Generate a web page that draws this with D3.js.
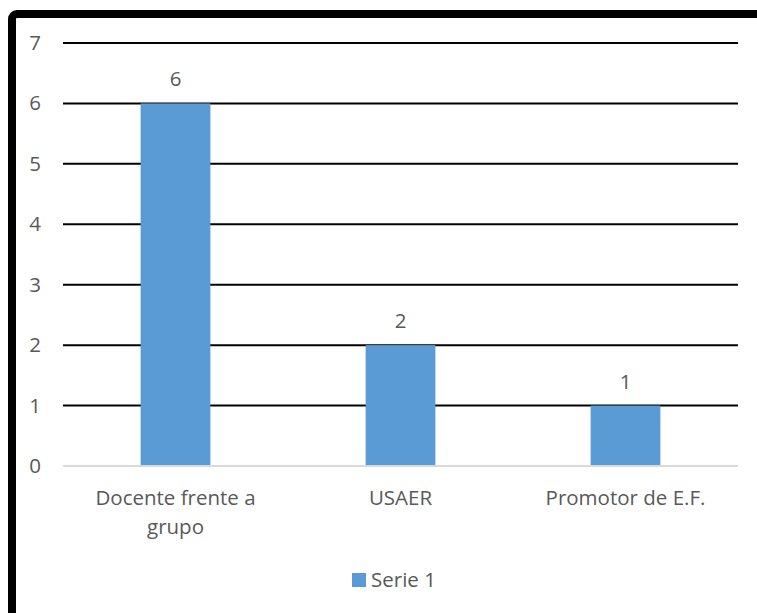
<!DOCTYPE html>
<html>
<head>
<meta charset="utf-8">
<script src="https://cdn.jsdelivr.net/npm/d3@7"></script>
<style>
  body { margin: 0; background: #fff; }
  text { font-family: "Open Sans", "Noto Sans", sans-serif; fill: #595959; }
</style>
</head>
<body>
<script>
const categories = ["Docente frente a grupo", "USAER", "Promotor de E.F."];
const labelLines = [["Docente frente a", "grupo"], ["USAER"], ["Promotor de E.F."]];
const serie1 = [6, 2, 1];
const yTicks = [0, 1, 2, 3, 4, 5, 6, 7];
const seriesName = "Serie 1";

const W = 757, H = 613;
const plot = { left: 63, right: 738, top: 43, bottom: 466 };
const fs = "20.5px";

const svg = d3.select("body").append("svg").attr("width", W).attr("height", H);

// outer frame (cut by the picture edge on right and bottom)
svg.append("rect")
  .attr("x", 12).attr("y", 14).attr("width", 800).attr("height", 700)
  .attr("rx", 5)
  .attr("fill", "none").attr("stroke", "#000").attr("stroke-width", 8);

const x = d3.scaleBand().domain(categories).range([plot.left, plot.right]).paddingInner(0.69).paddingOuter(0.345);
const y = d3.scaleLinear().domain([0, 7]).range([plot.bottom, plot.top]);

// gridlines
svg.append("g").selectAll("line").data(yTicks).enter().append("line")
  .attr("x1", plot.left).attr("x2", plot.right)
  .attr("y1", d => y(d)).attr("y2", d => y(d))
  .attr("stroke", d => d === 0 ? "#d9d9d9" : "#000")
  .attr("stroke-width", 2);

// y axis labels
const yAxis = d3.axisLeft(y).tickValues(yTicks).tickFormat(d3.format("d")).tickSize(0).tickPadding(0);
const gy = svg.append("g").attr("transform", "translate(41,0)").call(yAxis);
gy.select(".domain").remove();
gy.selectAll("text").style("font-size", fs).attr("fill", "#595959")
  .style("font-family", "'Open Sans', sans-serif");

// bars
svg.append("g").selectAll("rect").data(serie1).enter().append("rect")
  .attr("x", (d, i) => x(categories[i]))
  .attr("width", x.bandwidth())
  .attr("y", d => y(d))
  .attr("height", d => y(0) - y(d) - 1)
  .attr("fill", "#5b9bd5");

// data labels
svg.append("g").selectAll("text").data(serie1).enter().append("text")
  .attr("x", (d, i) => x(categories[i]) + x.bandwidth() / 2)
  .attr("y", d => y(d) - 17)
  .attr("text-anchor", "middle")
  .style("font-size", fs)
  .text(d => d);

// category labels
const xl = svg.append("g").selectAll("text").data(categories).enter().append("text")
  .attr("x", d => x(d) + x.bandwidth() / 2)
  .attr("y", 505)
  .attr("text-anchor", "middle")
  .style("font-size", fs);
xl.each(function (d, i) {
  const t = d3.select(this);
  labelLines[i].forEach((line, j) => {
    t.append("tspan").attr("x", x(d) + x.bandwidth() / 2).attr("dy", j === 0 ? 0 : 29).text(line);
  });
});

// legend
const lg = svg.append("g").attr("transform", "translate(352,573)");
lg.append("rect").attr("width", 14).attr("height", 14).attr("fill", "#5b9bd5");
lg.append("text").attr("x", 19).attr("y", 14).style("font-size", fs).text(seriesName);
</script>
</body>
</html>
